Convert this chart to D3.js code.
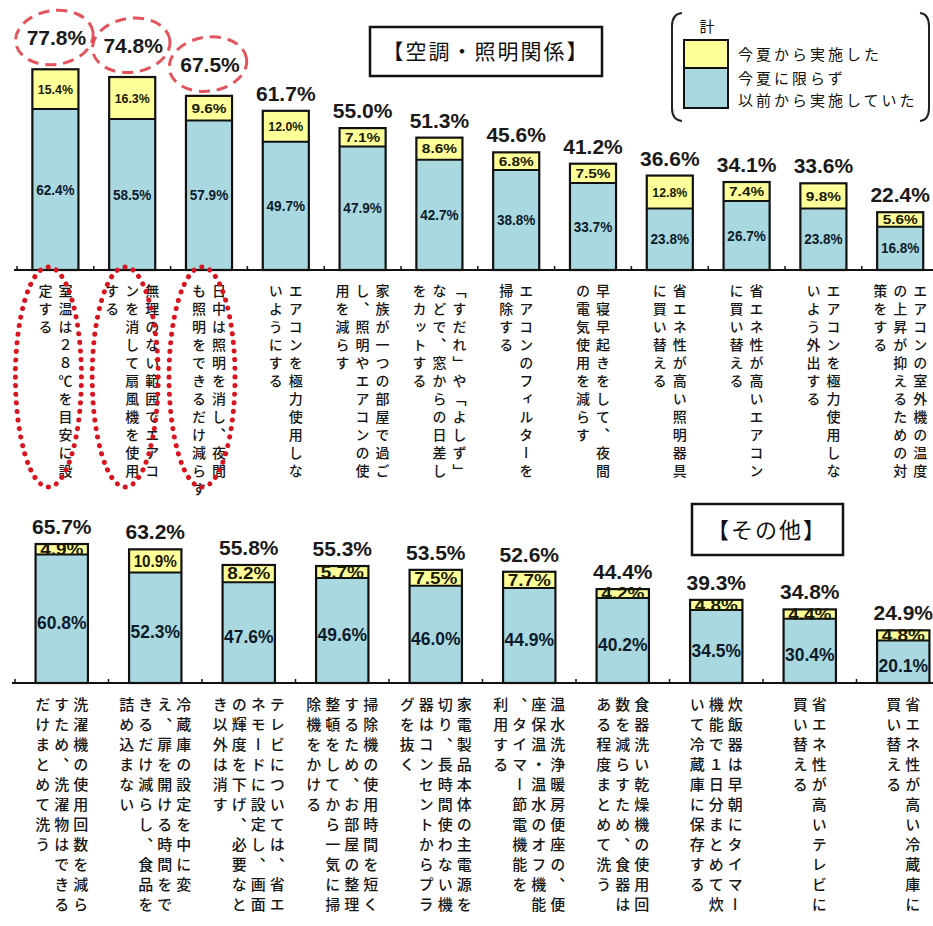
<!DOCTYPE html>
<html><head><meta charset="utf-8">
<script src="https://cdn.jsdelivr.net/npm/d3@7"></script>
<style>body{margin:0;background:#fff}</style>
</head><body><svg id="c" width="933" height="926" xmlns="http://www.w3.org/2000/svg"></svg>
<script>
// ---------- DATA ----------
const topCategories = [
  ["室温は２８℃を目安に設", "定する"],
  ["無理のない範囲でエアコ", "ンを消して扇風機を使用", "する"],
  ["日中は照明を消し、夜間", "も照明をできるだけ減らす"],
  ["エアコンを極力使用しな", "いようにする"],
  ["家族が一つの部屋で過ご", "し、照明やエアコンの使", "用を減らす"],
  ["「すだれ」や「よしず」", "などで、窓からの日差し", "をカットする"],
  ["エアコンのフィルターを", "掃除する"],
  ["早寝早起きをして、夜間", "の電気使用を減らす"],
  ["省エネ性が高い照明器具", "に買い替える"],
  ["省エネ性が高いエアコン", "に買い替える"],
  ["エアコンを極力使用しな", "いよう外出する"],
  ["エアコンの室外機の温度", "の上昇が抑えるための対", "策をする"]
];
const topBefore = [62.4, 58.5, 57.9, 49.7, 47.9, 42.7, 38.8, 33.7, 23.8, 26.7, 23.8, 16.8];
const topNew    = [15.4, 16.3, 9.6, 12.0, 7.1, 8.6, 6.8, 7.5, 12.8, 7.4, 9.8, 5.6];
const topTotals = [77.8, 74.8, 67.5, 61.7, 55.0, 51.3, 45.6, 41.2, 36.6, 34.1, 33.6, 22.4];
const topHighlighted = [0, 1, 2];

const bottomCategories = [
  ["洗濯機の使用回数を減ら", "すため、洗濯物はできる", "だけまとめて洗う"],
  ["冷蔵庫の設定を中に変", "え、扉を開ける時間をで", "きるだけ減らし、食品を", "詰め込まない"],
  ["テレビについては、省エ", "ネモードに設定し、画面", "の輝度を下げ、必要なと", "き以外は消す"],
  ["掃除機の使用時間を短く", "するため、お部屋の整理", "整頓をしてから一気に掃", "除機をかける"],
  ["家電製品本体の主電源を", "切り、長時間使わない機", "器はコンセントからプラ", "グを抜く"],
  ["温水洗浄暖房便座の、便", "座保温・温水のオフ機能", "、タイマー節電機能を", "利用する"],
  ["食器洗い乾燥機の使用回", "数を減らすため、食器は", "ある程度まとめて洗う"],
  ["炊飯器は早朝にタイマー", "機能で１日分まとめて炊", "いて冷蔵庫に保存する"],
  ["省エネ性が高いテレビに", "買い替える"],
  ["省エネ性が高い冷蔵庫に", "買い替える"]
];
const bottomBefore = [60.8, 52.3, 47.6, 49.6, 46.0, 44.9, 40.2, 34.5, 30.4, 20.1];
const bottomNew    = [4.9, 10.9, 8.2, 5.7, 7.5, 7.7, 4.2, 4.8, 4.4, 4.8];
const bottomTotals = [65.7, 63.2, 55.8, 55.3, 53.5, 52.6, 44.4, 39.3, 34.8, 24.9];

const legendTitle = "計";
const legendNew = "今夏から実施した";
const legendBefore = ["今夏に限らず", "以前から実施していた"];
const topTitle = "【空調・照明関係】";
const bottomTitle = "【その他】";

// ---------- STYLE ----------
const BLUE = "#aad8e0", YELLOW = "#ffff99";
const NUM_FONT = "'Liberation Sans', Arial, sans-serif";
const JP_FONT = "'Noto Sans CJK JP', 'Noto Sans CJK SC', sans-serif";
const svg = d3.select("#c");

function fmt(v) { return v.toFixed(1) + "%"; }

function panel(o) {
  const n = o.cats.length;
  const x = d3.scaleBand().domain(d3.range(n)).range(o.xr)
    .paddingInner(o.pin).paddingOuter(o.pout);
  const y = d3.scaleLinear().domain([0, 100]).range(o.yr);
  const g = svg.append("g");
  const bw = x.bandwidth();
  const gap = x.step() * o.pin;

  // axis line and ticks at category boundaries
  g.append("line").attr("x1", o.axisStart).attr("x2", 933)
    .attr("y1", y(0)).attr("y2", y(0)).attr("stroke", "#111").attr("stroke-width", 2);
  const bounds = d3.range(n + 1).map(i => (i < n ? x(i) - gap / 2 : x(n - 1) + bw + gap / 2));
  g.selectAll(".tk").data(bounds).join("line")
    .attr("x1", d => d).attr("x2", d => d)
    .attr("y1", y(0)).attr("y2", y(0) - 4).attr("stroke", "#111").attr("stroke-width", 1.5);

  // bars
  const bars = g.selectAll(".bar").data(d3.range(n)).join("g");
  bars.append("rect").attr("x", i => x(i)).attr("width", bw)
    .attr("y", i => y(o.before[i])).attr("height", i => y(0) - y(o.before[i]))
    .attr("fill", BLUE);
  bars.append("rect").attr("x", i => x(i)).attr("width", bw)
    .attr("y", i => y(o.before[i] + o.nw[i])).attr("height", i => y(o.before[i]) - y(o.before[i] + o.nw[i]))
    .attr("fill", YELLOW);
  bars.append("line").attr("x1", i => x(i)).attr("x2", i => x(i) + bw)
    .attr("y1", i => y(o.before[i])).attr("y2", i => y(o.before[i]))
    .attr("stroke", "#111").attr("stroke-width", 2);
  bars.append("rect").attr("x", i => x(i)).attr("width", bw)
    .attr("y", i => y(o.before[i] + o.nw[i])).attr("height", i => y(0) - y(o.before[i] + o.nw[i]))
    .attr("fill", "none").attr("stroke", "#111").attr("stroke-width", 2.2);

  // inner labels
  bars.append("text").attr("x", i => x(i) + bw / 2)
    .attr("y", i => (y(0) + y(o.before[i])) / 2 + o.innerFs * 0.36 + o.innerShift)
    .attr("text-anchor", "middle").attr("font-family", NUM_FONT).attr("font-weight", "bold")
    .attr("font-size", o.innerFs).attr("fill", "#0d1b2a").attr("textLength", i => Math.min(bw - 2, o.innerFs * 2.75))
    .attr("lengthAdjust", "spacingAndGlyphs")
    .text(i => fmt(o.before[i]));
  bars.append("text").attr("x", i => x(i) + bw / 2)
    .attr("y", i => (y(o.before[i]) + y(o.before[i] + o.nw[i])) / 2 + o.newFs * 0.36)
    .attr("text-anchor", "middle").attr("font-family", NUM_FONT).attr("font-weight", "bold")
    .attr("font-size", o.newFs).attr("fill", "#1a1a00").attr("textLength", i => Math.min(bw - 6, o.newFs * 2.7))
    .attr("lengthAdjust", "spacingAndGlyphs")
    .text(i => fmt(o.nw[i]));

  // totals
  bars.append("text").attr("x", i => x(i) + bw / 2 + (o.hl.includes(i) ? 1 : 0))
    .attr("y", i => y(o.totals[i]) - o.totGap - (o.hl.includes(i) ? o.hlLift : 0))
    .attr("text-anchor", "middle").attr("font-family", NUM_FONT).attr("font-weight", "bold")
    .attr("font-size", o.totFs).attr("fill", "#1a1a1a")
    .text(i => fmt(o.totals[i]));

  // vertical category labels (columns right-to-left)
  o.cats.forEach((cols, i) => {
    const cx = x(i) + bw / 2 + o.labShift;
    const k = cols.length;
    cols.forEach((col, j) => {
      const colX = cx + ((k - 1) / 2 - j) * o.colPitch;
      g.append("text").attr("x", colX).attr("y", o.labY)
        .style("writing-mode", "vertical-rl")
        .style("letter-spacing", o.ls + "px")
        .attr("font-family", JP_FONT).attr("font-size", o.labFs).attr("font-weight", 500)
        .attr("fill", "#161616").text(col);
    });
  });

  return { x, y, g, bw };
}

// ---------- TOP PANEL ----------
const T = panel({
  cats: topCategories, before: topBefore, nw: topNew, totals: topTotals, hl: topHighlighted,
  xr: [17, 938.6], pin: 0.4, pout: 0.2, yr: [270, 12], axisStart: 14,
  innerFs: 14, innerShift: 0, newFs: 13, totFs: 21, totGap: 10, hlLift: 14,
  labY: 284, labFs: 14, ls: 4, colPitch: 20, labShift: 0
});

// red dashed ellipses around highlighted totals
topHighlighted.forEach((i) => {
  const cx = T.x(i) + T.bw / 2 + 1;
  const cy = T.y(topTotals[i]) - 10 - 14 - 8;
  T.g.append("ellipse").attr("cx", cx - 2).attr("cy", cy)
    .attr("rx", 39).attr("ry", 27)
    .attr("transform", `rotate(-8 ${cx} ${cy})`)
    .attr("fill", "none").attr("stroke", "#e0414a").attr("stroke-width", 3)
    .attr("stroke-dasharray", "11 7").attr("opacity", 0.9);
});
// red dotted ellipses around highlighted category labels
topHighlighted.forEach((i) => {
  const cx = T.x(i) + T.bw / 2 - 7;
  const cy = 377;
  T.g.append("ellipse").attr("cx", cx).attr("cy", cy)
    .attr("rx", 33).attr("ry", 110)
    .attr("fill", "none").attr("stroke", "#d8141e").attr("stroke-width", 5)
    .attr("stroke-linecap", "round").attr("stroke-dasharray", "0.1 8.5");
});

// title box top
svg.append("rect").attr("x", 370).attr("y", 27).attr("width", 232).attr("height", 49)
  .attr("fill", "#fff").attr("stroke", "#111").attr("stroke-width", 2.5);
svg.append("text").attr("x", 486).attr("y", 59).attr("text-anchor", "middle")
  .attr("font-family", JP_FONT).attr("font-size", 21).style("letter-spacing", "2px")
  .attr("fill", "#111").text(topTitle);

// legend
const L = svg.append("g");
L.append("path").attr("d", "M682,13 Q672,14 672,26 L672,108 Q672,120 682,121")
  .attr("fill", "none").attr("stroke", "#222").attr("stroke-width", 2);
L.append("path").attr("d", "M920,13 Q929,14 929,26 L929,108 Q929,120 920,121")
  .attr("fill", "none").attr("stroke", "#222").attr("stroke-width", 2);
L.append("text").attr("x", 707).attr("y", 32).attr("text-anchor", "middle")
  .attr("font-family", JP_FONT).attr("font-size", 15).attr("fill", "#111").text(legendTitle);
L.append("rect").attr("x", 684).attr("y", 40).attr("width", 44).attr("height", 28)
  .attr("fill", YELLOW).attr("stroke", "#111").attr("stroke-width", 2);
L.append("rect").attr("x", 684).attr("y", 68).attr("width", 44).attr("height", 40)
  .attr("fill", BLUE).attr("stroke", "#111").attr("stroke-width", 2);
L.append("text").attr("x", 738).attr("y", 60).attr("font-family", JP_FONT).attr("font-size", 15)
  .style("letter-spacing", "3px").attr("fill", "#111").text(legendNew);
legendBefore.forEach((t, k) => {
  L.append("text").attr("x", 738).attr("y", 84 + k * 22).attr("font-family", JP_FONT).attr("font-size", 15)
    .style("letter-spacing", "3px").attr("fill", "#111").text(t);
});

// ---------- BOTTOM PANEL ----------
const B = panel({
  cats: bottomCategories, before: bottomBefore, nw: bottomNew, totals: bottomTotals, hl: [],
  xr: [15, 950], pin: 0.44, pout: 0.22, yr: [683, 471.5], axisStart: 12,
  innerFs: 18, innerShift: 4, newFs: 16, totFs: 21, totGap: 10, hlLift: 0,
  labY: 697, labFs: 15, ls: 5, colPitch: 19, labShift: 0
});

svg.append("rect").attr("x", 692).attr("y", 504).attr("width", 151).attr("height", 51)
  .attr("fill", "#fff").attr("stroke", "#111").attr("stroke-width", 2.5);
svg.append("text").attr("x", 767).attr("y", 538).attr("text-anchor", "middle")
  .attr("font-family", JP_FONT).attr("font-size", 22).style("letter-spacing", "2px")
  .attr("fill", "#111").text(bottomTitle);
</script>
</body></html>
